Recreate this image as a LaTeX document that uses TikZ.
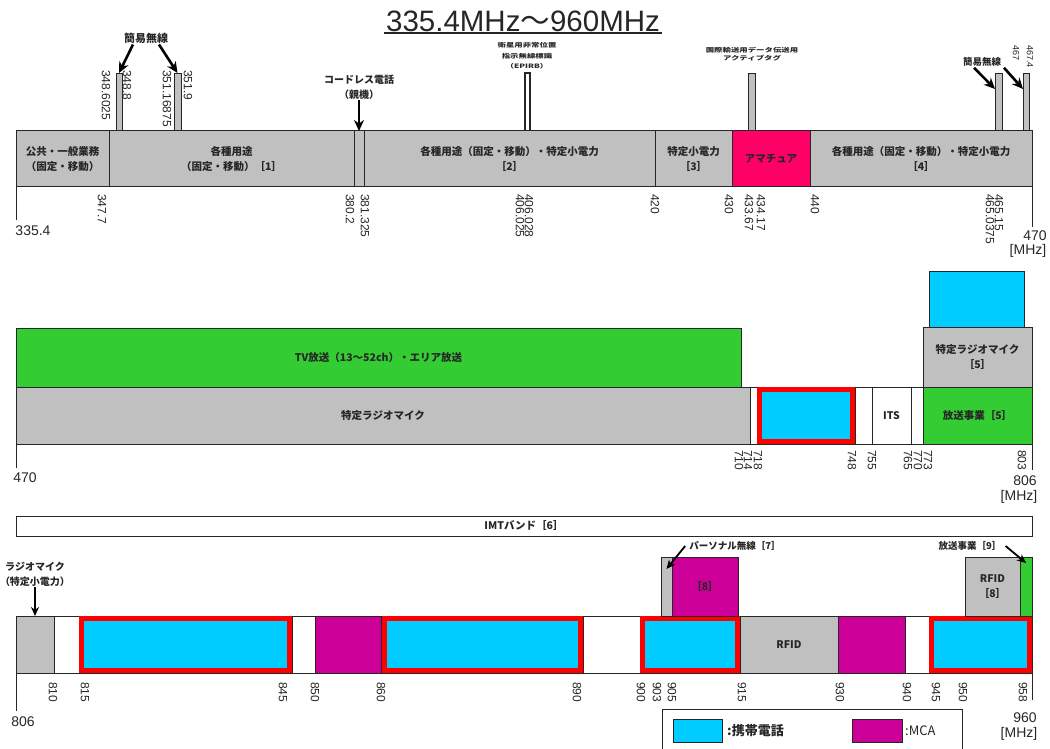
\documentclass[tikz,border=0pt]{standalone}
\usepackage{fontspec}
\usepackage{graphicx}
\setmainfont{Liberation Sans}
\newfontfamily\cjk{Noto Sans CJK JP}
\usetikzlibrary{arrows.meta}
\definecolor{cgray}{HTML}{C0C0C0}
\definecolor{cgreen}{HTML}{33CC33}
\definecolor{cblue}{HTML}{00CCFF}
\definecolor{cmag}{HTML}{CC0099}
\definecolor{cpink}{HTML}{FF0066}
\definecolor{ink}{HTML}{262626}
\newcommand{\blk}[7]{\node[#6, anchor=north west, minimum width={#4pt-#2pt}, minimum height={#5pt-#3pt}] (#1) at (#2,#3) {#7};}
\newcommand{\tk}[4]{\node[tick] (#1) at (#2,#3) {#4};}
\newcommand{\rframe}[1]{\draw[redf] ([xshift=2.5pt,yshift=-2.5pt]#1.north west) rectangle ([xshift=-2.5pt,yshift=2.5pt]#1.south east);}
\tikzset{
  cell/.style={draw=ink, line width=1pt, inner sep=0pt, outer sep=0pt, align=center,
    font=\cjk\bfseries\fontsize{10.5}{14.5}\selectfont, text=ink},
  cellg/.style={cell, fill=cgray},
  cellgr/.style={cell, fill=cgreen},
  cellb/.style={cell, fill=cblue},
  cellm/.style={cell, fill=cmag},
  cellp/.style={cell, fill=cpink},
  cellw/.style={cell, fill=white},
  spike/.style={cellg, line width=0.8pt},
  spikew/.style={cellw, line width=1.2pt},
  redf/.style={draw=red, line width=5pt},
  tick/.style={rotate=-90, anchor=west, inner sep=0pt, font=\fontsize{12}{12}\selectfont, text=ink},
  ticks/.style={tick, font=\fontsize{9}{9}\selectfont},
  lab/.style={inner sep=1pt, align=center, text=ink, font=\cjk\bfseries\fontsize{10}{15}\selectfont},
  num/.style={inner sep=0pt, text=ink, font=\fontsize{14}{14}\selectfont},
  arr/.style={-{Stealth[length=11pt,width=10pt]}, line width=2.6pt, draw=black},
  arrs/.style={-{Stealth[length=9pt,width=8pt]}, line width=1.8pt, draw=black},
  axis/.style={line width=1pt, draw=ink}
}
\begin{document}
\begin{tikzpicture}[x=1pt, y=-1pt]
\useasboundingbox (0,0) rectangle (1050,749);
% title
\node[inner sep=1.5pt, text=ink, font=\fontsize{29.5}{31}\selectfont] (title) at (523,21) {335.4MHz{\cjk ～}960MHz};
\draw[line width=1.3pt, draw=ink] (title.south west) -- (title.south east);

% ===== top band 335.4-470 =====
\blk{s1}{116}{73}{122}{131}{spike}{}
\blk{s2}{174}{73}{181}{131}{spike}{}
\blk{s3}{525}{73}{530}{131}{spikew}{}
\blk{s4}{748}{73}{755}{131}{spike}{}
\blk{s5}{995}{73}{1002}{131}{spike}{}
\blk{s6}{1023}{73}{1029}{131}{spike}{}
\blk{a1}{16}{131}{109}{187}{cellg}{公共・一般業務\\（固定・移動）}
\blk{a2}{109}{131}{354}{187}{cellg}{各種用途\\（固定・移動）［1］}
\blk{a3}{354}{131}{364}{187}{cellg}{}
\blk{a4}{364}{131}{655}{187}{cellg}{各種用途（固定・移動）・特定小電力\\［2］}
\blk{a5}{655}{131}{732}{187}{cellg}{特定小電力\\［3］}
\blk{a6}{732}{131}{810}{187}{cellp}{アマチュア}
\blk{a7}{810}{131}{1032}{187}{cellg}{各種用途（固定・移動）・特定小電力\\［4］}

% labels above
\node[lab, font=\cjk\bfseries\fontsize{11}{11}\selectfont] (k1) at (146,38) {簡易無線};
\draw[arr] ([xshift=-13pt]k1.south) -- (s1.north);
\draw[arr] ([xshift=13pt]k1.south) -- (s2.north);
\node[lab] (cl) at (359,87) {コードレス電話\\（親機）};
\draw[arr] (cl.south) -- (a3.north);
\node[lab, font=\cjk\bfseries\fontsize{6}{10.5}\selectfont] (ep) at (527,56) {\scalebox{1.4}[1]{衛星用非常位置}\\\scalebox{1.4}[1]{指示無線標識}\\\scalebox{1.4}[1]{（EPIRB）}};
\node[lab, font=\cjk\bfseries\fontsize{6}{8.5}\selectfont] (at) at (752,54) {\scalebox{1.4}[1]{国際輸送用データ伝送用}\\\scalebox{1.4}[1]{アクティブタグ}};
\node[lab, font=\cjk\bfseries\fontsize{9.5}{9.5}\selectfont] (k2) at (982,62) {簡易無線};
\draw[arr] ([xshift=-8pt]k2.south) -- ([yshift=-16pt]s5.north west);
\draw[arr] ([xshift=22pt]k2.south) -- ([yshift=-16pt]s6.north west);

% spike frequency labels
\tk{l1}{106}{70}{348.6025}
\tk{l2}{127}{70}{348.8}
\tk{l3}{167}{70}{351.16875}
\tk{l4}{188}{70}{351.9}
\node[ticks] (l5) at (1016,45) {467};
\node[ticks] (l6) at (1030,45) {467.4};

% band frequency labels
\tk{t1}{102}{194}{347.7}
\tk{t2}{350}{194}{380.2}
\tk{t3}{365}{194}{381.325}
\tk{t4}{520}{194}{406.025}
\tk{t5}{529}{194}{406.028}
\tk{t6}{655}{194}{420}
\tk{t7}{729}{194}{430}
\tk{t8}{749}{194}{433.67}
\tk{t9}{761}{194}{434.17}
\tk{t10}{815}{194}{440}
\tk{t11}{990}{194}{465.0375}
\tk{t12}{999}{194}{465.15}

\draw[axis] (a1.south west) -- ++(0,33);
\node[num] (n1) at (33,231) {335.4};
\draw[axis] (a7.south east) -- ++(0,40);
\node[num] (n2) at (1035,236) {470};
\node[num] (n3) at (1028,251) {[MHz]};

% ===== middle band 470-806 =====
\blk{m0}{16}{387}{1032}{444}{cellw}{}
\blk{m1}{16}{328}{741}{387}{cellgr}{TV放送（13～52ch）・エリア放送}
\blk{m2}{16}{387}{750}{444}{cellg}{特定ラジオマイク}
\blk{m3}{757}{387}{855}{444}{cellb}{}
\rframe{m3}
\blk{m4}{872}{387}{911}{444}{cellw}{ITS}
\blk{m5}{923}{387}{1032}{444}{cellgr}{放送事業［5］}
\blk{m6}{923}{327}{1032}{387}{cellg}{特定ラジオマイク\\［5］}
\blk{m7}{929}{271}{1024}{327}{cellb}{}

\tk{v1}{739}{450}{710}
\tk{v2}{748}{450}{714}
\tk{v3}{758}{450}{718}
\tk{v4}{852}{450}{748}
\tk{v5}{872}{450}{755}
\tk{v6}{908}{450}{765}
\tk{v7}{918}{450}{770}
\tk{v8}{928}{450}{773}
\tk{v9}{1022}{450}{803}

\draw[axis] (m0.south west) -- ++(0,24);
\node[num] (n4) at (25,478) {470};
\draw[axis] (m0.south east) -- ++(0,26);
\node[num] (n5) at (1025,481) {806};
\node[num] (n6) at (1019,497) {[MHz]};

% ===== bottom band 806-960 =====
\blk{i0}{16}{516}{1032}{536}{cellw}{IMTバンド［6］}
\blk{b0}{16}{616}{1032}{673}{cellw}{}
\blk{b1}{16}{616}{54}{673}{cellg}{}
\blk{b2}{79}{616}{292}{673}{cellb}{}
\rframe{b2}
\blk{b3}{315}{616}{381}{673}{cellm}{}
\blk{b4}{382}{616}{583}{673}{cellb}{}
\rframe{b4}
\blk{b5}{640}{616}{740}{673}{cellb}{}
\rframe{b5}
\blk{b6}{740}{616}{838}{673}{cellg}{RFID}
\blk{b7}{838}{616}{905}{673}{cellm}{}
\blk{b8}{929}{616}{1032}{673}{cellb}{}
\rframe{b8}
\blk{u1}{661}{557}{672}{616}{cellg}{}
\blk{u2}{672}{557}{738}{616}{cellm}{［8］}
\blk{u3}{965}{557}{1020}{616}{cellg}{RFID\\［8］}
\blk{u4}{1020}{557}{1032}{616}{cellgr}{}

\node[lab] (rm) at (35,574) {ラジオマイク\\（特定小電力）};
\draw[arrs] (rm.south) -- (b1.north);
\node[lab, font=\cjk\bfseries\fontsize{9.5}{9.5}\selectfont] (p7) at (735,546) {パーソナル無線［7］};
\draw[arrs] ([xshift=-3pt]p7.west) -- ([yshift=-12pt]u1.north);
\node[lab, font=\cjk\bfseries\fontsize{9.5}{9.5}\selectfont] (b9) at (970,546) {放送事業［9］};
\draw[arrs] ([xshift=3pt]b9.east) -- ([yshift=-6pt]u4.north);

\tk{w1}{53}{682}{810}
\tk{w2}{85}{682}{815}
\tk{w3}{283}{682}{845}
\tk{w4}{315}{682}{850}
\tk{w5}{381}{682}{860}
\tk{w6}{577}{682}{890}
\tk{w7}{641}{682}{900}
\tk{w8}{657}{682}{903}
\tk{w9}{672}{682}{905}
\tk{w10}{742}{682}{915}
\tk{w11}{840}{682}{930}
\tk{w12}{907}{682}{940}
\tk{w13}{936}{682}{945}
\tk{w14}{963}{682}{950}
\tk{w15}{1023}{682}{958}

\draw[axis] (b0.south west) -- ++(0,38);
\node[num] (n7) at (23,722) {806};
\draw[axis] (b0.south east) -- ++(0,27);
\node[num] (n8) at (1025,718) {960};
\node[num] (n9) at (1019,734) {[MHz]};

% legend
\draw[axis] (662,749) -- (662,709) -- (962,709) -- (962,749);
\blk{g1}{673}{719}{722}{742}{cellb}{}
\node[lab, anchor=west, font=\cjk\bfseries\fontsize{13}{13}\selectfont] (g1t) at ([xshift=4pt]g1.east) {:携帯電話};
\blk{g2}{852}{719}{902}{742}{cellm}{}
\node[lab, anchor=west, font=\cjk\fontsize{13}{13}\selectfont] (g2t) at ([xshift=2pt]g2.east) {:MCA};
\end{tikzpicture}
\end{document}
